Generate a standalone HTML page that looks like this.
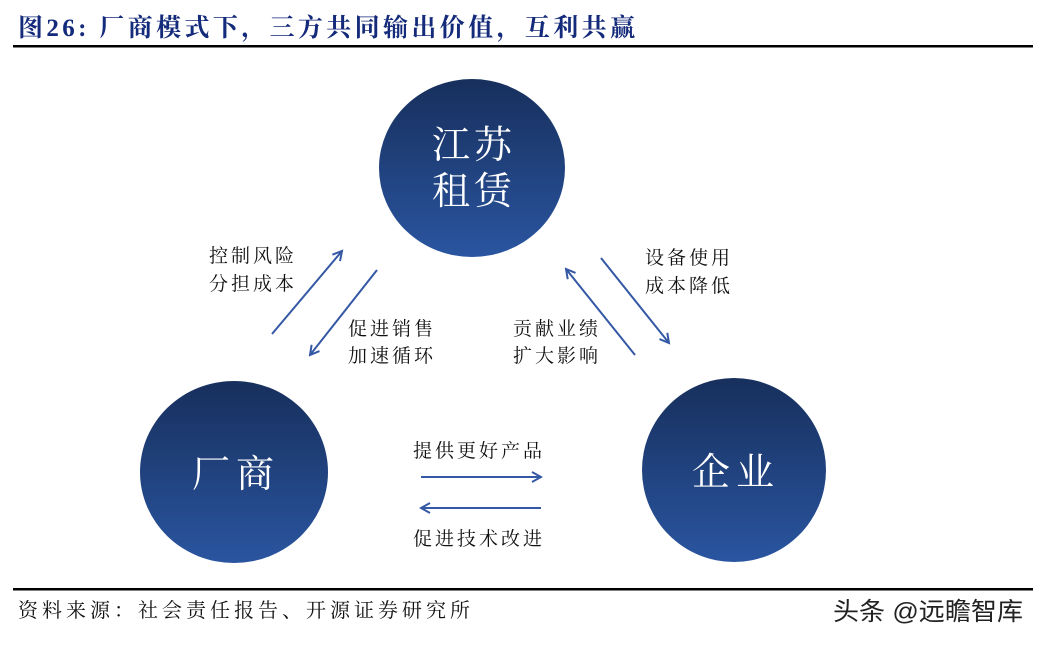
<!DOCTYPE html>
<html><head><meta charset="utf-8"><style>
html,body{margin:0;padding:0;background:#fff;}
body{width:1043px;height:646px;overflow:hidden;}
svg{display:block}
</style></head><body>
<svg width="1043" height="646" viewBox="0 0 1043 646" xmlns="http://www.w3.org/2000/svg">
<defs>
<linearGradient id="g" x1="0" y1="0" x2="0" y2="1">
<stop offset="0" stop-color="#172f5c"/><stop offset="1" stop-color="#2a55a0"/>
</linearGradient>
<marker id="a" markerWidth="12" markerHeight="12" refX="10" refY="6" orient="auto" markerUnits="userSpaceOnUse">
<path d="M1,1 L10,6 L1,11" fill="none" stroke="#3558a5" stroke-width="2"/>
</marker>
</defs>
<text x="18" y="36" font-family="Liberation Serif, Noto Serif CJK SC, serif" font-weight="bold" font-size="25" fill="#142a7a" textLength="617" lengthAdjust="spacing">图26:  厂商模式下，三方共同输出价值，互利共赢</text>
<rect x="13" y="45" width="1020" height="2.5" fill="#000"/>
<ellipse cx="472" cy="168" rx="93" ry="89" fill="url(#g)"/>
<ellipse cx="234" cy="472" rx="94" ry="91" fill="url(#g)"/>
<ellipse cx="734" cy="470" rx="92" ry="92" fill="url(#g)"/>
<g font-family="Noto Serif CJK SC, serif" fill="#fff" font-size="38" text-anchor="middle">
<text x="474" y="158" letter-spacing="4">江苏</text>
<text x="474" y="204" letter-spacing="4">租赁</text>
<text x="236" y="487" letter-spacing="6">厂商</text>
<text x="736" y="485" letter-spacing="6">企业</text>
</g>
<g stroke="#3558a5" stroke-width="2" fill="none" marker-end="url(#a)">
<line x1="272" y1="334" x2="342" y2="251"/>
<line x1="377" y1="270" x2="310" y2="355"/>
<line x1="635" y1="355" x2="566" y2="269"/>
<line x1="601" y1="258" x2="669" y2="343"/>
<line x1="421" y1="477" x2="541" y2="477"/>
<line x1="541" y1="508" x2="421" y2="508"/>
</g>
<g font-family="Noto Serif CJK SC, serif" fill="#111" font-size="19" letter-spacing="3">
<text x="209" y="262">控制风险</text>
<text x="209" y="290">分担成本</text>
<text x="348" y="335">促进销售</text>
<text x="348" y="362">加速循环</text>
<text x="513" y="335">贡献业绩</text>
<text x="513" y="362">扩大影响</text>
<text x="645" y="264">设备使用</text>
<text x="645" y="292">成本降低</text>
<text x="413" y="457">提供更好产品</text>
<text x="413" y="545">促进技术改进</text>
</g>
<rect x="13" y="588" width="1020" height="2.5" fill="#000"/>
<text x="18" y="617" font-family="Noto Serif CJK SC, serif" font-size="20" fill="#111" textLength="452" lengthAdjust="spacing">资料来源：社会责任报告、开源证券研究所</text>
<text x="833" y="620" font-family="Liberation Sans, Noto Sans CJK SC, sans-serif" font-size="25" fill="#222" textLength="190" lengthAdjust="spacingAndGlyphs">头条 @远瞻智库</text>
</svg>
</body></html>
